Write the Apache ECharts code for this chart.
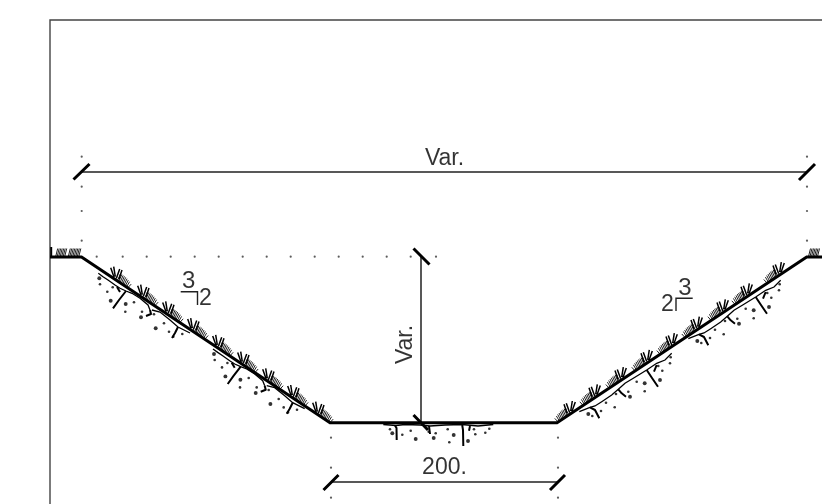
<!DOCTYPE html>
<html><head><meta charset="utf-8">
<style>html,body{margin:0;padding:0;background:#fff}#c{width:822px;height:504px}</style>
<script src="https://cdn.jsdelivr.net/npm/echarts@6/dist/echarts.min.js"></script>
</head><body><div id="c"></div>
<script>
// ---- drawing values (x, y in sheet units)
const frame = [[[50,504],[50,20],[822,20]]];
const profile = [[[50,257],[81.5,257],[330,422.7],[557,422.7],[806.7,257],[822,257]]];
const dimensionLines = [
  [[82,172],[807,172]],
  [[421,257],[421,422]],
  [[331,482],[558,482]]
];
const dimensionTicks = [
  [[73.5,179.5],[89.5,164]],
  [[799,180],[815,164]],
  [[413.5,248.5],[429.5,264.5]],
  [[413.5,415],[428,430]],
  [[323.5,490],[338.5,475]],
  [[550,490],[565,475]]
];
const extensionDots = [
  [81.7,156.7],[81.7,186.7],[81.7,211],[81.7,240.7],
  [807,156.7],[807,186.7],[807,211],[807,240.7],
  [96.7,256.7],[122.7,256.7],[146.7,256.7],[170.7,256.7],[194.7,256.7],[218.7,256.7],
  [242.7,256.7],[266.7,256.7],[290.7,256.7],[314.7,256.7],[338.7,256.7],[362.7,256.7],
  [386.7,256.7],[410.7,256.7],[436,256.7],
  [331,437.7],[331,467.7],[331,497.7],[558,437.7],[558,467.7],[558,497.7]
];
// tuft anchors on the slopes
const leftTufts = [[330,422.7],[305,406],[280,389.3],[255,372.6],[230,355.9],[205,339.1],[180,322.4],[155,305.7],[128,287.7]];
const rightTufts = [[558,422],[583,405.4],[609,388.1],[635,370.9],[660,354.2],[685,337.6],[711,320.3],[735,304.4],[767,283.1]];
// grass stems of one tuft (relative to the anchor, left slope; mirrored on the right)
const tuftStems = [
  [[-17.3,-20],[-14,-10.7]],
  [[-14.3,-21],[-12.7,-11]],
  [[-8.3,-18.7],[-11.7,-9.3]],
  [[-6,-17.7],[-9,-8.7]]
];
const tuftHatch = [
  [[-10.5,-7],[-7.5,-14]],[[-9.2,-6.2],[-6.2,-13.2]],[[-7.9,-5.3],[-4.9,-12.3]],[[-6.6,-4.4],[-3.6,-11.4]],
  [[-5.3,-3.5],[-2.3,-10.3]],[[-4,-2.7],[-1,-9]],[[-2.7,-1.8],[0.3,-7.6]],[[-1.4,-0.9],[1.6,-6]],[[-0.1,0],[3.2,-3.6]]
];
// ground tufts on the flat parts
const groundHatchX = [55.7,57.2,58.7,60.2,61.7,63.2,64.7,68.3,69.8,71.3,72.8,74.3,75.8,77.3,78.8,808.5,810,811.5,813,814.5,816,817.5];
const groundEdge = [[[51.2,247],[51.2,257]]];
// soil marks, one repeat on each slope
const leftSoilThin = [
  [[98.3,273.3],[103,276.7],[108,280],[115,285],[120,288.3],[126,291],[132,293.3],[140,298.3],[148,305],[150,310]],
  [[152,310],[160,312],[170,320],[178,327],[190,333]]
];
const leftSoilThick = [
  [[126,291],[119,300],[113,308.3]],
  [[150,310],[151,314],[146,316]],
  [[117,287],[120,292]],
  [[178,327],[175,333],[172,338]]
];
const leftSoilDots = [[99.3,278.3,3],[100,284.3,2],[107.3,291.7,2],[112.7,287.3,2],[110.7,300.7,3],[125.7,304,3],[125.3,311.7,2],[134,302.3,2],[141,317.3,3],[142,311.7,2],[154,314.3,2],[155.7,328.3,3],[164,323.3,2],[169,331.7,2],[173.3,336.7,2],[182.3,334,2]];
const leftRepeat = [[0,0],[114.7,75.7]];
const rightSoilThin = [
  [[579.3,411.7],[585,409.3],[590,407.3],[595,406],[601.7,401.7],[611.7,395],[618.3,389.3],[625,383.3],[633.3,378.3],[646.7,370],[656.7,363.3],[665,360],[671.7,353.3]]
];
const rightSoilThick = [
  [[590,407.3],[595,410],[599.3,418.3]],
  [[618.3,389.3],[621.7,393.3],[626,396.7]],
  [[646.7,370],[652,378],[658,386.7]],
  [[656.7,365],[654,371.7]]
];
const rightSoilDots = [[588.3,414,3],[592.3,416,2],[601,411,2],[606,402.7,2],[614.7,407.3,2],[616,394,2],[628.3,391.7,2],[630,396.7,3],[636.7,381.7,2],[644.7,383.3,3],[644.7,391.3,2],[660,380,3],[658.3,366,2],[662.3,370.7,2],[670,363.3,2],[670.7,357.3,2]];
const rightRepeat = [[0,0],[109,-73]];
// soil under the base
const baseSoilThin = [[[383.3,424.5],[396,425.5],[405,424.5],[420,425],[430,426],[445,425],[462,424.5],[478,426],[493.3,424.5]]];
const baseSoilThick = [
  [[395,425.5],[396.5,428],[396.7,440]],
  [[462.2,425],[463,430],[463.3,446]],
  [[429,426],[430,434]],
  [[470,426],[469,430.7]]
];
const baseSoilDots = [[390,429.3,2],[392.3,433.3,3],[402.3,434.7,2],[410.7,430.7,2],[415.7,439,3],[428.7,431.7,2],[435.7,433.3,2],[433.7,438,3],[447.7,429.3,2],[453.7,435,3],[449.3,442.3,2],[468,441,3],[474,429.3,2],[475.3,434.3,2],[485.3,432.7,2],[489.3,428.7,2]];
// slope-ratio rules
const slopeRules = [
  [[180.7,291.7],[197.5,291.7],[197.5,305]],
  [[692.7,298.3],[676,298.3],[676,311]]
];
// labels
const labelItems = [
  {at:[444.5,158.5], text:'Var.', rotate:0, size:23},
  {at:[444.5,467.5], text:'200.', rotate:0, size:23},
  {at:[405.5,344.5], text:'Var.', rotate:90, size:23},
  {at:[188.7,281], text:'3', rotate:0, size:24},
  {at:[205.5,298.7], text:'2', rotate:0, size:23},
  {at:[685,288.5], text:'3', rotate:0, size:24},
  {at:[667.5,304.7], text:'2', rotate:0, size:23}
];

// ---- assembly
const shift = (seg,o,mirror)=>seg.map(p=>[o[0]+(mirror?-p[0]:p[0]),o[1]+p[1]]);
const repeatSegs=(segs,offs)=>offs.flatMap(o=>segs.map(s=>shift(s,o)));
const repeatDots=(dots,offs)=>offs.flatMap(o=>dots.map(d=>[d[0]+o[0],d[1]+o[1],d[2]]));
const place=(tpl,anchors,mirror)=>anchors.flatMap(a=>tpl.map(s=>shift(s,a,mirror)));
const poly=segs=>{const r=[];segs.forEach((s,i)=>{if(i)r.push(null);s.forEach(p=>r.push(p));});return r;};
const lineSeries=(segs,color,width,join)=>({type:'line',data:poly(segs),showSymbol:false,symbol:'none',silent:true,animation:false,clip:false,connectNulls:false,
  lineStyle:{color,width,cap:'butt',join:join||'miter'}});

const groundHatch = groundHatchX.map(x=>[[x,256.5],[x+2,248.5]]);
const stems=[...place(tuftStems,leftTufts,false),...place(tuftStems,rightTufts,true)];
const hatch=[...place(tuftHatch,leftTufts,false),...place(tuftHatch,rightTufts,true),...groundHatch];
const thin=[...repeatSegs(leftSoilThin,leftRepeat),...repeatSegs(rightSoilThin,rightRepeat),...baseSoilThin];
const thick=[...repeatSegs(leftSoilThick,leftRepeat),...repeatSegs(rightSoilThick,rightRepeat),...baseSoilThick];
const soilDots=[...repeatDots(leftSoilDots,leftRepeat),...repeatDots(rightSoilDots,rightRepeat),...baseSoilDots];

const chart=echarts.init(document.getElementById('c'),null,{renderer:'canvas'});
chart.setOption({
  animation:false,backgroundColor:'#fff',
  grid:{left:0,right:0,top:0,bottom:0},
  xAxis:{type:'value',min:0,max:822,show:false},
  yAxis:{type:'value',min:0,max:504,inverse:true,show:false},
  series:[
    lineSeries(frame,'#444',1.4),
    lineSeries(dimensionLines,'#222',1.5),
    lineSeries(hatch,'#222',1),
    lineSeries(stems,'#000',1.5),
    lineSeries(thin,'#000',1.3),
    lineSeries(thick,'#000',2,'round'),
    lineSeries(groundEdge,'#000',2),
    lineSeries(profile,'#000',3),
    lineSeries(dimensionTicks,'#000',3),
    lineSeries(slopeRules,'#222',1.4),
    {type:'scatter',data:extensionDots.map(d=>[d[0],d[1]]),symbolSize:2.2,silent:true,animation:false,clip:false,itemStyle:{color:'#333'}},
    {type:'scatter',data:soilDots,symbolSize:d=>d[2]*1.3,silent:true,animation:false,clip:false,itemStyle:{color:'#000'}},
    {type:'scatter',silent:true,animation:false,clip:false,symbolSize:0,
     data:labelItems.map(l=>({value:l.at,label:{show:true,position:'inside',formatter:l.text,rotate:l.rotate,fontSize:l.size,fontFamily:'Liberation Sans',color:'#000'}}))}
  ]
});
</script></body></html>
